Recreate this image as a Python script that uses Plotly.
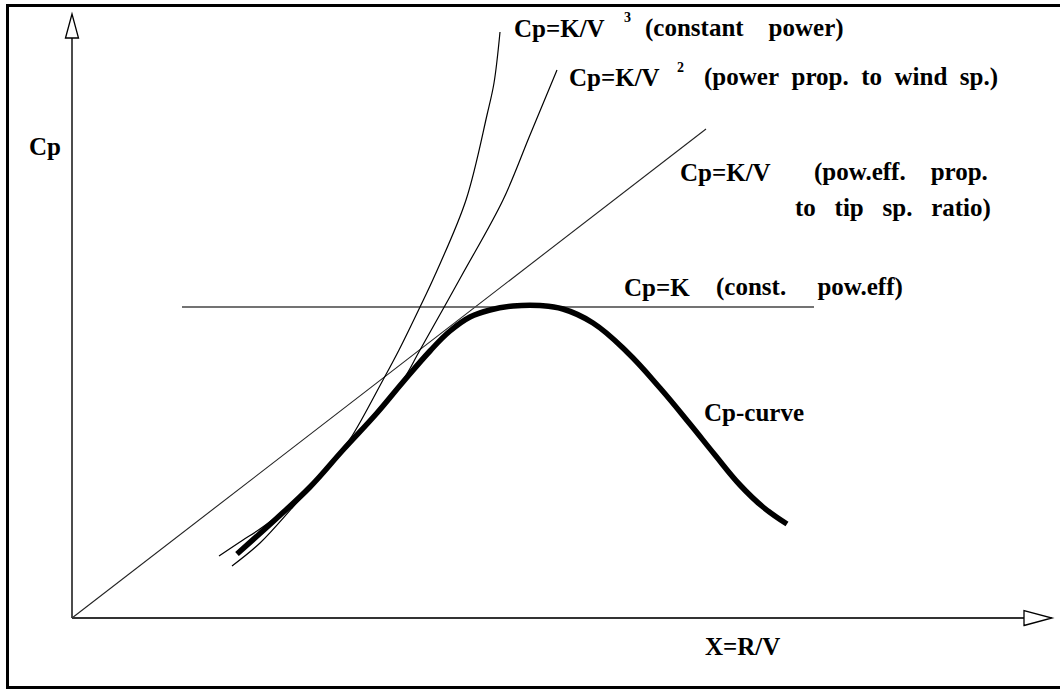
import plotly.graph_objects as go

# ---------------- data (X = R/V on x, Cp on y; schematic units) ----------------
cp_curve_x = [1.65, 2.05, 2.38, 2.71, 3.05, 3.31, 3.58, 3.78, 3.98, 4.18, 4.41, 4.68, 4.91, 5.21, 5.55, 5.88, 6.18, 6.43, 6.68, 6.91, 7.15]
cp_curve_y = [0.64, 1.00, 1.31, 1.68, 2.05, 2.36, 2.67, 2.87, 3.01, 3.08, 3.12, 3.125, 3.09, 2.95, 2.66, 2.30, 1.94, 1.63, 1.33, 1.11, 0.94]

kv2_x = [1.47, 1.71, 1.85, 2.08, 2.38, 2.71, 3.05, 3.31, 3.48, 3.90, 4.31, 4.58, 4.85]
kv2_y = [0.62, 0.78, 0.87, 1.04, 1.32, 1.69, 2.07, 2.38, 2.68, 3.43, 4.18, 4.83, 5.48]

kv3_x = [1.60, 1.88, 2.21, 2.45, 2.68, 2.80, 3.11, 3.27, 3.48, 3.63, 3.94, 4.15, 4.22, 4.28]
kv3_y = [0.52, 0.75, 1.11, 1.38, 1.66, 1.82, 2.38, 2.68, 3.11, 3.43, 4.18, 5.03, 5.35, 5.86]

kv1_x = [0.0, 6.34]
kv1_y = [0.0, 4.89]

k_x = [1.10, 7.42]
k_level = 3.11

x_axis_end = 9.80
y_axis_end = 6.04

def gap(n):
    return "\u00a0" * n

labels = {
    "kv3": "Cp=K/V", "kv3_exp": "3", "kv3_note": "(constant" + gap(4) + "power)",
    "kv2": "Cp=K/V", "kv2_exp": "2", "kv2_note": gap(2).join(["(power", "prop.", "to", "wind", "sp.)"]),
    "kv1": "Cp=K/V", "kv1_note1": "(pow.eff." + gap(4) + "prop.",
    "kv1_note2": gap(3).join(["to", "tip", "sp.", "ratio)"]),
    "k": "Cp=K", "k_note": "(const." + gap(5) + "pow.eff)",
    "curve": "Cp-curve", "ylab": "Cp", "xlab": "X=R/V",
}

# ---------------- figure ----------------
fig = go.Figure()
thin = dict(color="black", width=1.2)

fig.add_trace(go.Scatter(x=kv1_x, y=kv1_y, mode="lines", line=dict(color="#222", width=1.1)))
fig.add_trace(go.Scatter(x=k_x, y=[k_level, k_level], mode="lines", line=dict(color="#444", width=1.6)))
fig.add_trace(go.Scatter(x=kv2_x, y=kv2_y, mode="lines", line=dict(shape="spline", smoothing=1, **thin)))
fig.add_trace(go.Scatter(x=kv3_x, y=kv3_y, mode="lines", line=dict(shape="spline", smoothing=1, **thin)))
fig.add_trace(go.Scatter(x=cp_curve_x, y=cp_curve_y, mode="lines",
                         line=dict(shape="spline", smoothing=1.2, color="black", width=5.5)))

# axes with open arrowheads
ah_len_y, ah_half_y = 0.24, 0.065
ah_len_x, ah_half_x = 0.28, 0.075
shapes = [
    dict(type="line", xref="x", yref="y", x0=0, y0=0, x1=0, y1=y_axis_end - ah_len_y,
         line=dict(color="#111", width=1.5)),
    dict(type="line", xref="x", yref="y", x0=0, y0=0, x1=x_axis_end - ah_len_x, y1=0,
         line=dict(color="#333", width=1.8)),
    dict(type="path", xref="x", yref="y",
         path=f"M {-ah_half_y} {y_axis_end - ah_len_y} L 0 {y_axis_end} L {ah_half_y} {y_axis_end - ah_len_y} Z",
         line=dict(color="black", width=1.3), fillcolor="white"),
    dict(type="path", xref="x", yref="y",
         path=f"M {x_axis_end - ah_len_x} {-ah_half_x} L {x_axis_end} 0 L {x_axis_end - ah_len_x} {ah_half_x} Z",
         line=dict(color="black", width=1.3), fillcolor="white"),
    # frame
    dict(type="rect", xref="paper", yref="paper", x0=7.5 / 1060, y0=(690 - 687.5) / 690,
         x1=1.01, y1=(690 - 5.5) / 690, line=dict(color="black", width=3)),
]

FAM = "Liberation Serif, Times New Roman, serif"
font = dict(family=FAM, size=25, color="black", weight="bold")
small = dict(family=FAM, size=14, color="black", weight="bold")

def ann(text, x, y, anchor="left", f=font):
    return dict(text=text, x=x, y=y, xref="x", yref="y", xanchor=anchor, yanchor="middle",
                showarrow=False, font=f)

annotations = [
    ann(labels["kv3"], 4.40, 5.90), ann(labels["kv3_exp"], 5.50, 6.01, f=small),
    ann(labels["kv3_note"], 7.74, 5.90, "right"),
    ann(labels["kv2"], 4.95, 5.41), ann(labels["kv2_exp"], 6.03, 5.51, f=small),
    ann(labels["kv2_note"], 9.28, 5.41, "right"),
    ann(labels["kv1"], 6.06, 4.46), ann(labels["kv1_note1"], 9.18, 4.46, "right"),
    ann(labels["kv1_note2"], 9.21, 4.10, "right"),
    ann(labels["k"], 5.50, 3.31), ann(labels["k_note"], 8.33, 3.31, "right"),
    ann(labels["curve"], 6.30, 2.06),
    ann(labels["ylab"], -0.45, 4.72),
    ann(labels["xlab"], 6.31, -0.28),
]

fig.update_layout(
    width=1060, height=690,
    margin=dict(l=0, r=0, t=0, b=0),
    paper_bgcolor="white", plot_bgcolor="white",
    showlegend=False,
    xaxis=dict(range=[-0.72, 9.88], visible=False, fixedrange=True),
    yaxis=dict(range=[-0.72, 6.18], visible=False, fixedrange=True),
    shapes=shapes, annotations=annotations,
)

fig.write_html("out.html", config={"displayModeBar": False},
               post_script="document.body.style.margin='0';document.body.style.overflow='hidden';")
